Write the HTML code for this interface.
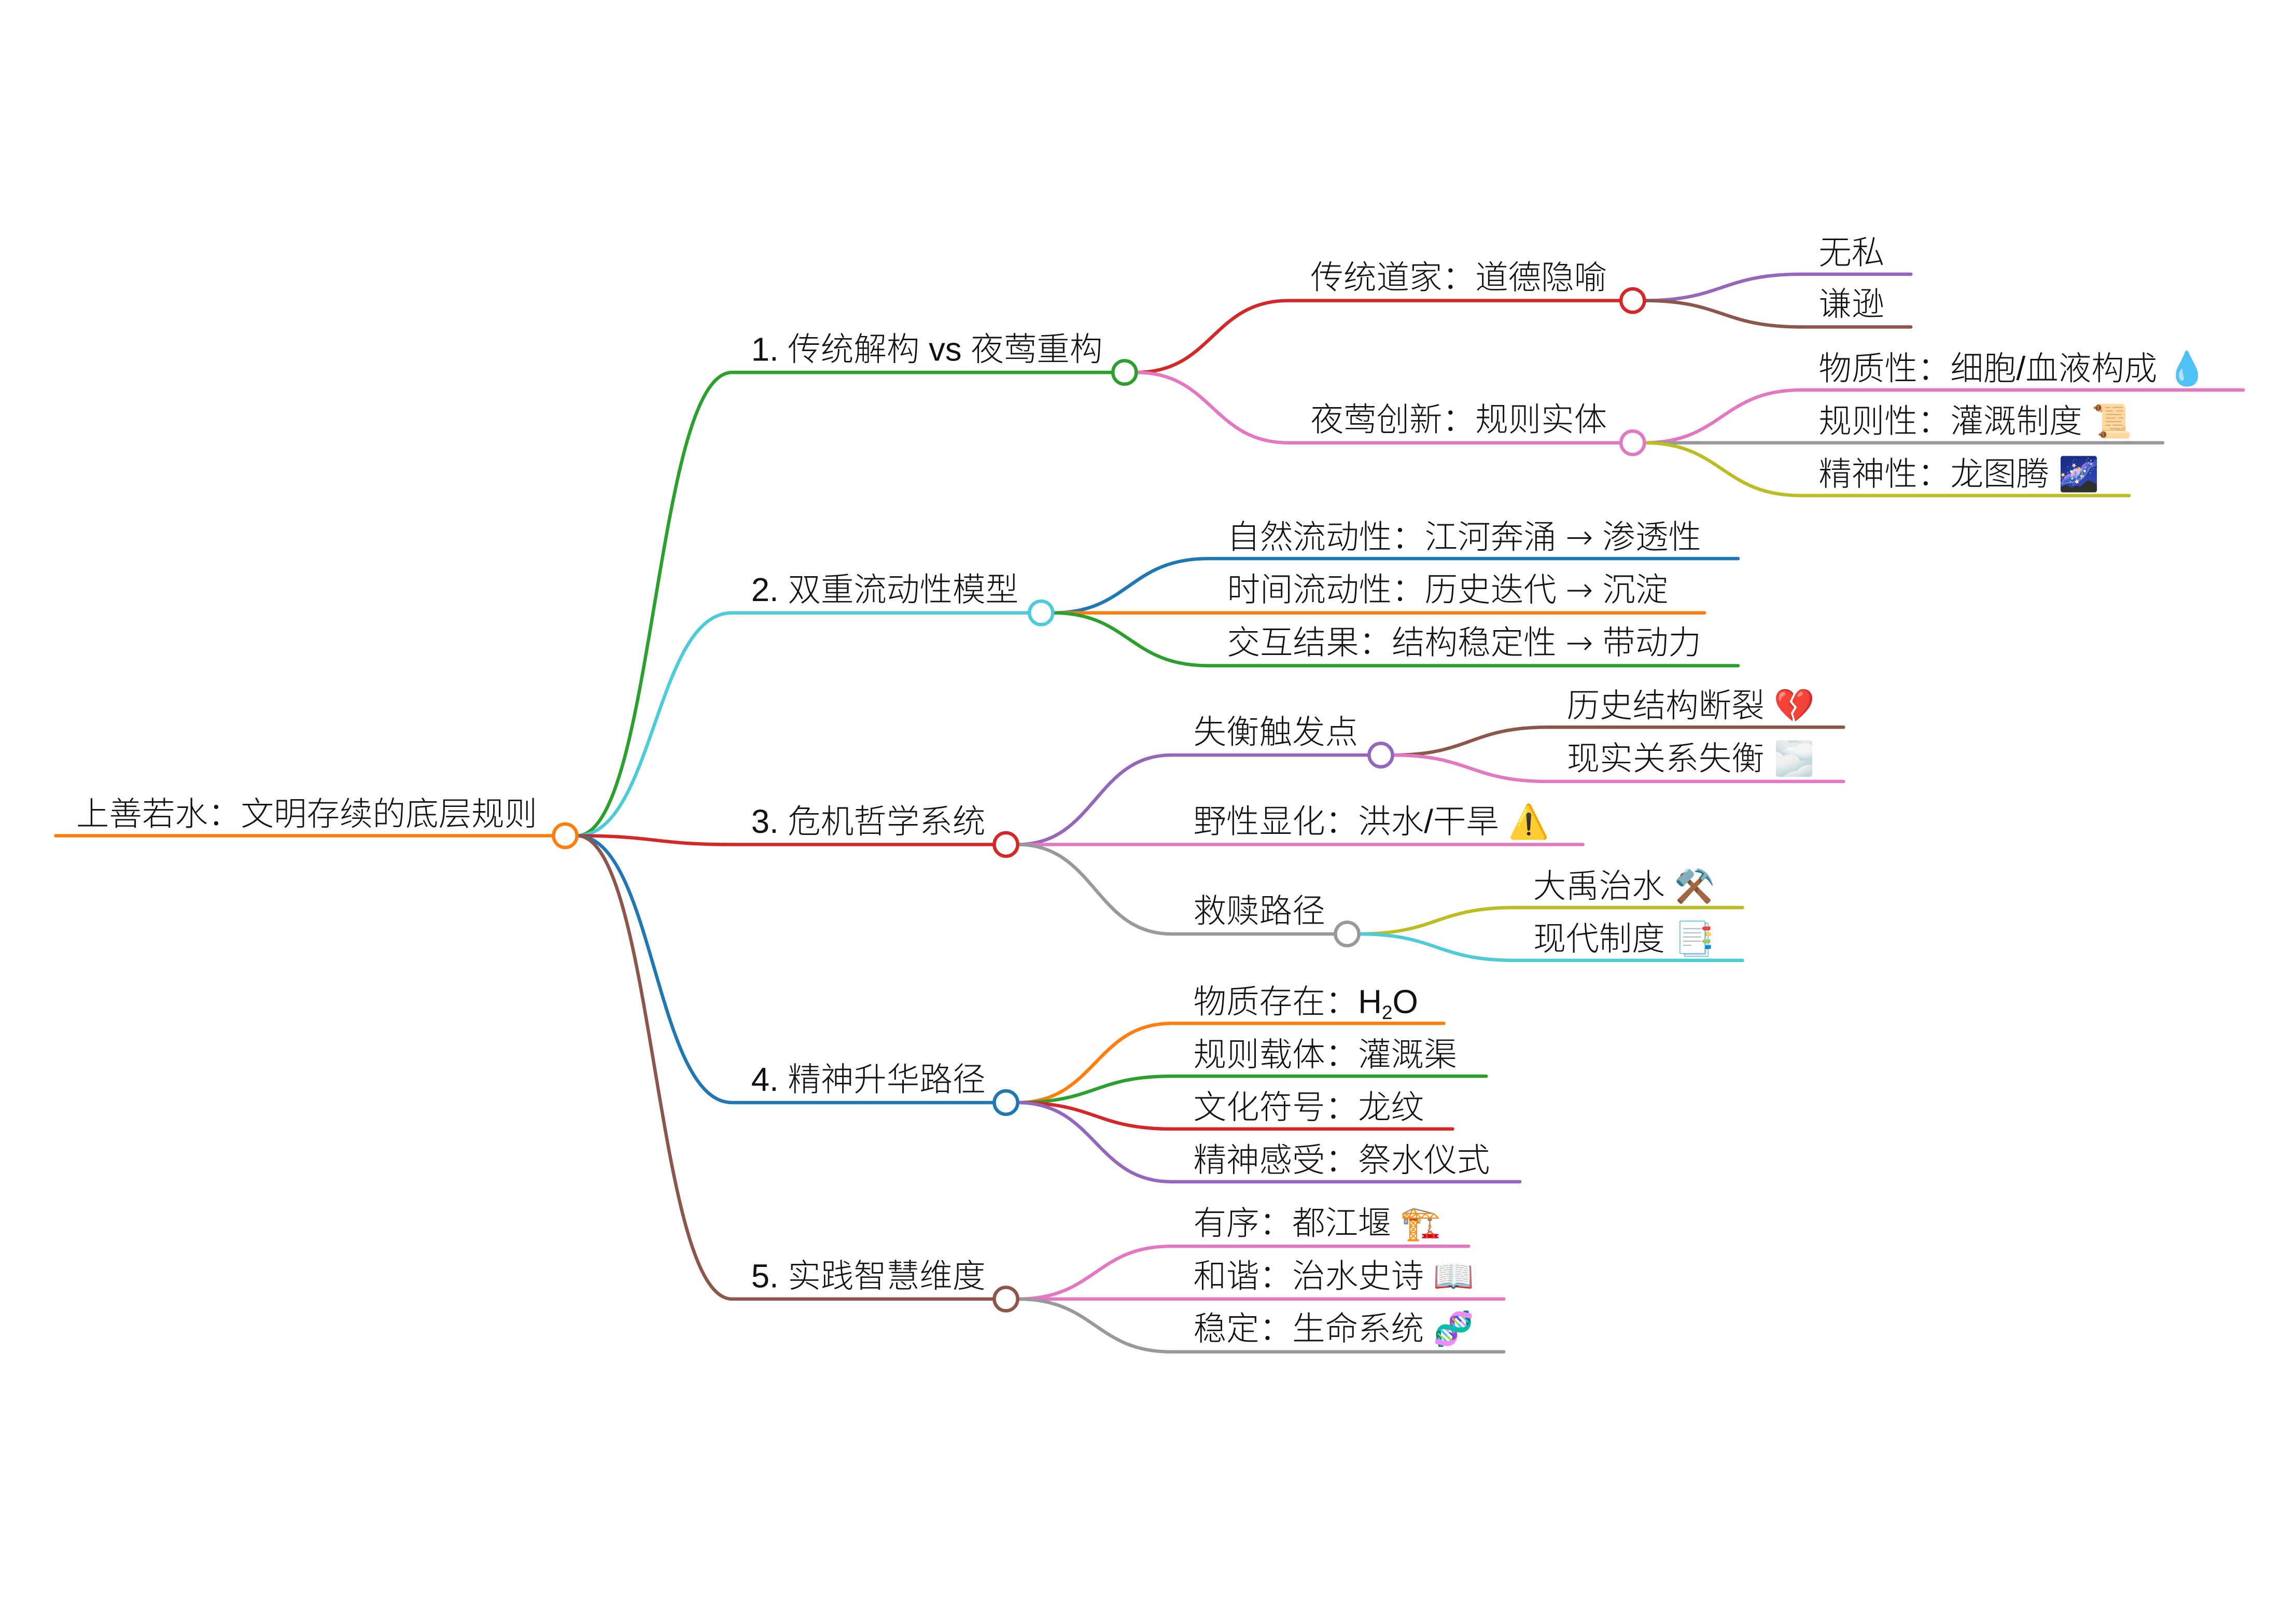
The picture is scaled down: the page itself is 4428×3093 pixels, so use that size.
<!DOCTYPE html>
<html><head><meta charset="utf-8"><style>
html,body{margin:0;padding:0;background:#fff;}
svg{display:block;}
text{font-family:"Liberation Sans","Noto Sans CJK SC",sans-serif;font-size:22.5px;fill:#111;font-weight:300;}
.ar{font-family:"DejaVu Sans","Noto Sans CJK SC",sans-serif;}
path,line{fill:none;stroke-width:2.3;stroke-linecap:round;}
circle{fill:#fff;stroke-width:2.3;}
</style></head><body>
<svg width="4428" height="3093" viewBox="0 0 1568 1094" preserveAspectRatio="none" xmlns="http://www.w3.org/2000/svg">
<line x1="38" y1="570" x2="378" y2="570" stroke="#ff7f0e" stroke-width="3"/>
<text x="52" y="563">上善若水：文明存续的底层规则</text>

<path d="M394,570 C447,570 447,254 500,254 L760,254" stroke="#2ca02c"/>
<path d="M394,570 C447,570 447,418 500,418 L703,418" stroke="#4ecbd8"/>
<path d="M394,570 C447,570 447,576 500,576 L679,576" stroke="#d62728"/>
<path d="M394,570 C447,570 447,752 500,752 L679,752" stroke="#1f77b4"/>
<path d="M394,570 C447,570 447,886 500,886 L679,886" stroke="#8c564b"/>
<circle cx="386" cy="570" r="8" stroke="#ff7f0e"/>

<text x="513" y="246">1. 传统解构 vs 夜莺重构</text>
<text x="513" y="410">2. 双重流动性模型</text>
<text x="513" y="568">3. 危机哲学系统</text>
<text x="513" y="744">4. 精神升华路径</text>
<text x="513" y="878">5. 实践智慧维度</text>

<path d="M776,254 C828,254 828,205 880,205 L1107,205" stroke="#d62728"/>
<path d="M776,254 C828,254 828,302 880,302 L1107,302" stroke="#e377c2"/>
<circle cx="768" cy="254" r="8" stroke="#2ca02c"/>
<text x="895" y="197">传统道家：道德隐喻</text>
<text x="895" y="294">夜莺创新：规则实体</text>

<path d="M1123,205 C1176,205 1176,187 1230,187 L1305,187" stroke="#9467bd"/>
<path d="M1123,205 C1176,205 1176,223 1230,223 L1305,223" stroke="#8c564b"/>
<circle cx="1115" cy="205" r="8" stroke="#d62728"/>
<text x="1242" y="180">无私</text>
<text x="1242" y="215">谦逊</text>

<path d="M1123,302 C1176,302 1176,266 1230,266 L1532,266" stroke="#e377c2"/>
<path d="M1123,302 L1477,302" stroke="#999999"/>
<path d="M1123,302 C1176,302 1176,338 1230,338 L1454,338" stroke="#bcbd22"/>
<circle cx="1115" cy="302" r="8" stroke="#e377c2"/>
<text x="1242" y="259">物质性：细胞/血液构成 💧</text>
<text x="1242" y="295">规则性：灌溉制度 📜</text>
<text x="1242" y="331">精神性：龙图腾 🌌</text>

<path d="M719,418 C771,418 771,381 825,381 L1187,381" stroke="#1f77b4"/>
<path d="M719,418 L1164,418" stroke="#ff7f0e"/>
<path d="M719,418 C771,418 771,454 825,454 L1187,454" stroke="#2ca02c"/>
<circle cx="711" cy="418" r="8" stroke="#4ecbd8"/>
<text x="838" y="374">自然流动性：江河奔涌 <tspan class="ar">→</tspan> 渗透性</text>
<text x="838" y="410">时间流动性：历史迭代 <tspan class="ar">→</tspan> 沉淀</text>
<text x="838" y="446">交互结果：结构稳定性 <tspan class="ar">→</tspan> 带动力</text>

<path d="M695,576 C748,576 748,515 800,515 L935,515" stroke="#9467bd"/>
<path d="M695,576 L1081,576" stroke="#e377c2"/>
<path d="M695,576 C748,576 748,637 800,637 L912,637" stroke="#999999"/>
<circle cx="687" cy="576" r="8" stroke="#d62728"/>
<text x="815" y="507">失衡触发点</text>
<text x="815" y="568">野性显化：洪水/干旱 ⚠️</text>
<text x="815" y="629">救赎路径</text>

<path d="M951,515 C1004,515 1004,496 1057,496 L1259,496" stroke="#8c564b"/>
<path d="M951,515 C1004,515 1004,533 1057,533 L1259,533" stroke="#e377c2"/>
<circle cx="943" cy="515" r="8" stroke="#9467bd"/>
<text x="1070" y="489">历史结构断裂 💔</text>
<text x="1070" y="525">现实关系失衡 🌫️</text>

<path d="M928,637 C981,637 981,619 1034,619 L1190,619" stroke="#bcbd22"/>
<path d="M928,637 C981,637 981,655 1034,655 L1190,655" stroke="#4ecbd8"/>
<circle cx="920" cy="637" r="8" stroke="#999999"/>
<text x="1047" y="612">大禹治水 ⚒️</text>
<text x="1047" y="648">现代制度 📑</text>

<path d="M695,752 C748,752 748,698 800,698 L986,698" stroke="#ff7f0e"/>
<path d="M695,752 C748,752 748,734 800,734 L1015,734" stroke="#2ca02c"/>
<path d="M695,752 C748,752 748,770 800,770 L992,770" stroke="#d62728"/>
<path d="M695,752 C748,752 748,806 800,806 L1038,806" stroke="#9467bd"/>
<circle cx="687" cy="752" r="8" stroke="#1f77b4"/>
<text x="815" y="691">物质存在：H<tspan font-size="13" dy="4">2</tspan><tspan dy="-4">O</tspan></text>
<text x="815" y="727">规则载体：灌溉渠</text>
<text x="815" y="763">文化符号：龙纹</text>
<text x="815" y="799">精神感受：祭水仪式</text>

<path d="M695,886 C748,886 748,850 800,850 L1003,850" stroke="#e377c2"/>
<path d="M695,886 L1027,886" stroke="#e377c2"/>
<path d="M695,886 C748,886 748,922 800,922 L1027,922" stroke="#999999"/>
<circle cx="687" cy="886" r="8" stroke="#8c564b"/>
<text x="815" y="842">有序：都江堰 🏗️</text>
<text x="815" y="878">和谐：治水史诗 📖</text>
<text x="815" y="914">稳定：生命系统 🧬</text>
</svg>
</body></html>
